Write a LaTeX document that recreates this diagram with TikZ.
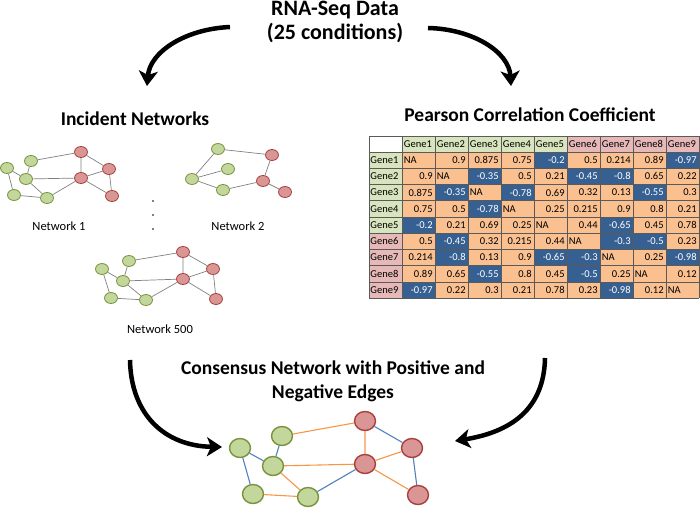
\documentclass[tikz,border=0pt]{standalone}
\usepackage{fontspec}
\setmainfont{Carlito}
\usetikzlibrary{arrows.meta,shapes.geometric}
\definecolor{gfill}{HTML}{C3D69B}
\definecolor{gdraw}{HTML}{77933C}
\definecolor{rfill}{HTML}{D99694}
\definecolor{rdraw}{HTML}{A8403D}
\definecolor{oedge}{HTML}{F79646}
\definecolor{bedge}{HTML}{4F81BD}
\definecolor{corange}{HTML}{FAC090}
\definecolor{cblue}{HTML}{376092}
\definecolor{hgreen}{HTML}{D7E4BD}
\definecolor{hpink}{HTML}{E6B9B8}
\definecolor{gridc}{HTML}{5A5A5A}
\begin{document}
\begin{tikzpicture}[x=1pt,y=-1pt,
  title/.style={font=\bfseries\fontsize{19.5}{24}\selectfont, align=center},
  bigarrow/.style={line width=4.5pt, -{Stealth[length=15pt,width=19pt,inset=4pt]}},
  sg/.style={ellipse, minimum width=13pt, minimum height=11pt, inner sep=0pt, fill=gfill, draw=gdraw, line width=0.8pt},
  sr/.style={sg, fill=rfill, draw=rdraw},
  cg/.style={ellipse, minimum width=21pt, minimum height=19pt, inner sep=0pt, fill=gfill, draw=gdraw, line width=1.4pt},
  cr/.style={cg, fill=rfill, draw=rdraw},
  sedge/.style={draw=black!50, line width=0.7pt},
  posedge/.style={draw=oedge, line width=1.1pt},
  negedge/.style={draw=bedge, line width=1.1pt},
  netlabel/.style={font=\fontsize{12.5}{14}\selectfont},
  cell/.style={font=\fontsize{10.5}{12}\selectfont, inner sep=1.2pt},
  txtp/.style={cell, anchor=east, xshift=15.5pt},
  txtn/.style={cell, anchor=east, xshift=15.5pt, text=white},
  txta/.style={cell, anchor=west, xshift=-16pt},
  fillp/.style={fill=corange},
  filln/.style={fill=cblue},
  filla/.style={fill=corange},
  dotmark/.style={circle, fill=black, inner sep=0pt, minimum size=1.8pt}
]
\useasboundingbox (0,0) rectangle (700,508);

% titles
\node[title, font=\bfseries\fontsize{22}{24}\selectfont] (top) at (335,22) {RNA-Seq Data\\(25 conditions)};
\node[title] (inc) at (135,119) {Incident Networks};
\node[title] (pear) at (530,115) {Pearson Correlation Coefficient};
\node[title] (cons) at (333,381) {Consensus Network with Positive and\\Negative Edges};

% arrows
\coordinate (a1s) at (230,27); \coordinate (a1e) at (147,86);
\coordinate (a2s) at (428,28); \coordinate (a2e) at (511,86);
\coordinate (a3s) at (130,360); \coordinate (a3e) at (222,447);
\coordinate (a4s) at (545,358); \coordinate (a4e) at (455,441);
\draw[bigarrow] (a1s) .. controls (185,29) and (150,52) .. (a1e);
\draw[bigarrow] (a2s) .. controls (473,29) and (509,52) .. (a2e);
\draw[bigarrow] (a3s) .. controls (131,415) and (165,446) .. (a3e);
\draw[bigarrow] (a4s) .. controls (544,410) and (510,432) .. (a4e);

% Network 1
\node[sg] (n1a) at (7,168) {};
\node[sg] (n1b) at (31,161) {};
\node[sg] (n1c) at (26,179) {};
\node[sg] (n1d) at (14,195) {};
\node[sg] (n1e) at (47,198) {};
\node[sr] (n1f) at (81,152) {};
\node[sr] (n1g) at (81,178) {};
\node[sr] (n1h) at (109,169) {};
\node[sr] (n1i) at (112,196) {};
\draw[sedge] (n1a)--(n1c) (n1a)--(n1d) (n1d)--(n1e) (n1c)--(n1e) (n1b)--(n1c)
  (n1b)--(n1f) (n1c)--(n1g) (n1e)--(n1g) (n1f)--(n1g) (n1f)--(n1h) (n1g)--(n1h)
  (n1h)--(n1i) (n1g)--(n1i);
\node[netlabel] (l1) at (59,226) {Network 1};

% Network 2
\node[sg] (n2a) at (218,149) {};
\node[sg] (n2b) at (228,169) {};
\node[sg] (n2c) at (192,179) {};
\node[sg] (n2d) at (223,190) {};
\node[sr] (n2e) at (272,155) {};
\node[sr] (n2f) at (263,181) {};
\node[sr] (n2g) at (285,192) {};
\draw[sedge] (n2c)--(n2a) (n2c)--(n2b) (n2c)--(n2d) (n2a)--(n2e) (n2e)--(n2f)
  (n2d)--(n2f) (n2f)--(n2g);
\node[netlabel] (l2) at (238,226) {Network 2};

% dots
\node[dotmark] (d1) at (153,201) {};
\node[dotmark] (d2) at (153,215) {};
\node[dotmark] (d3) at (153,229) {};

% Network 500
\node[sg] (n5a) at (102,269) {};
\node[sg] (n5b) at (129,261) {};
\node[sg] (n5c) at (123,281) {};
\node[sg] (n5d) at (111,298) {};
\node[sg] (n5e) at (146,300) {};
\node[sr] (n5f) at (183,252) {};
\node[sr] (n5g) at (183,279) {};
\node[sr] (n5h) at (213,269) {};
\node[sr] (n5i) at (216,299) {};
\draw[sedge] (n5a)--(n5c) (n5a)--(n5d) (n5d)--(n5e) (n5c)--(n5e) (n5b)--(n5c)
  (n5b)--(n5f) (n5c)--(n5g) (n5e)--(n5g) (n5f)--(n5g) (n5f)--(n5h) (n5g)--(n5h)
  (n5h)--(n5i) (n5g)--(n5i);
\node[netlabel] (l5) at (160,329) {Network 500};

% Consensus network
\node[cg] (ca) at (240,448) {};
\node[cg] (cb) at (282,436) {};
\node[cg] (cc) at (273,466) {};
\node[cg] (cd) at (253,494) {};
\node[cg] (ce) at (308,497) {};
\node[cr] (cf) at (365,421) {};
\node[cr] (cgg) at (365,464) {};
\node[cr] (ch) at (412,448) {};
\node[cr] (ci) at (418,495) {};
\draw[negedge] (ca)--(cc) (ca)--(cd) (cb)--(cc) (ce)--(cgg) (cf)--(ch) (ch)--(ci);
\draw[posedge] (cd)--(ce) (cc)--(ce) (cc)--(cgg) (cb)--(cf) (cf)--(cgg) (cgg)--(ch) (cgg)--(ci);

% Table
\fill[white] (369,136) rectangle (402,152);
\foreach \c in {1,...,5} {\fill[hgreen] ({402+33*(\c-1)},136) rectangle ({435+33*(\c-1)},152);}
\foreach \c in {6,...,9} {\fill[hpink] ({402+33*(\c-1)},136) rectangle ({435+33*(\c-1)},152);}
\foreach \r in {1,...,5} {\fill[hgreen] (369,{152+16.22*(\r-1)}) rectangle (402,{152+16.22*\r});}
\foreach \r in {6,...,9} {\fill[hpink] (369,{152+16.22*(\r-1)}) rectangle (402,{152+16.22*\r});}
\foreach \c in {1,...,9} {\node[txta] (h\c) at ({418.5+33*(\c-1)},144) {Gene\c};}
\foreach \r in {1,...,9} {\node[cell, anchor=west] (rl\r) at (369,{160.11+16.22*(\r-1)}) {Gene\r};}
\foreach \row [count=\r] in {
 {NA/a,0.9/p,0.875/p,0.75/p,-0.2/n,0.5/p,0.214/p,0.89/p,-0.97/n},
 {0.9/p,NA/a,-0.35/n,0.5/p,0.21/p,-0.45/n,-0.8/n,0.65/p,0.22/p},
 {0.875/p,-0.35/n,NA/a,-0.78/n,0.69/p,0.32/p,0.13/p,-0.55/n,0.3/p},
 {0.75/p,0.5/p,-0.78/n,NA/a,0.25/p,0.215/p,0.9/p,0.8/p,0.21/p},
 {-0.2/n,0.21/p,0.69/p,0.25/p,NA/a,0.44/p,-0.65/n,0.45/p,0.78/p},
 {0.5/p,-0.45/n,0.32/p,0.215/p,0.44/p,NA/a,-0.3/n,-0.5/n,0.23/p},
 {0.214/p,-0.8/n,0.13/p,0.9/p,-0.65/n,-0.3/n,NA/a,0.25/p,-0.98/n},
 {0.89/p,0.65/p,-0.55/n,0.8/p,0.45/p,-0.5/n,0.25/p,NA/a,0.12/p},
 {-0.97/n,0.22/p,0.3/p,0.21/p,0.78/p,0.23/p,-0.98/n,0.12/p,NA/a}} {
  \foreach \v/\t [count=\c] in \row {
    \fill[fill\t] ({402+33*(\c-1)},{152+16.22*(\r-1)}) rectangle ({435+33*(\c-1)},{152+16.22*\r});
    \node[txt\t] (t\r-\c) at ({418.5+33*(\c-1)},{160.11+16.22*(\r-1)}) {\v};
  }
}
\foreach \k in {0,...,10} {
  \pgfmathsetmacro{\xx}{\k==0 ? 369 : 402+33*(\k-1)}
  \draw[gridc, line width=0.5pt] (\xx,136) -- (\xx,298);
}
\draw[gridc, line width=0.5pt] (369,136) -- (699,136);
\foreach \k in {0,...,9} {\draw[gridc, line width=0.5pt] (369,{152+16.22*\k}) -- (699,{152+16.22*\k});}
\end{tikzpicture}
\end{document}
